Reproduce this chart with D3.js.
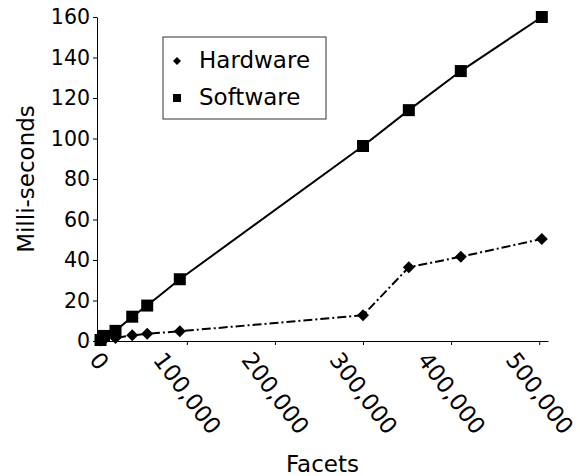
<!DOCTYPE html>
<html>
<head>
<meta charset="utf-8">
<script src="https://cdn.jsdelivr.net/npm/d3@7"></script>
<style>
  html, body { margin: 0; padding: 0; background: #fff; }
  svg { display: block; font-family: "DejaVu Sans", sans-serif; }
</style>
</head>
<body>
<svg id="chart" width="580" height="476"></svg>
<script>
// Render time versus number of facets
const facets = [2000, 6000, 19000, 38000, 55000, 92000, 300000, 352000, 411000, 503000];
const software = [0.5, 2.5, 5, 12, 17.5, 30.5, 96.3, 114, 133.3, 160];
const hardware = [0.2, 0.8, 1.5, 2.8, 3.6, 4.8, 12.7, 36.4, 41.6, 50.4];
const xTicks = [0, 100000, 200000, 300000, 400000, 500000];
const yTicks = [0, 20, 40, 60, 80, 100, 120, 140, 160];
const seriesNames = ["Hardware", "Software"];

const svg = d3.select("#chart");
const x = d3.scaleLinear().domain([-2000, 510000]).range([97, 548]);
const y = d3.scaleLinear().domain([0, 160]).range([341, 17]);
const fmt = d3.format(",");

const yTickFont = 20.5;
const xTickFont = 23;
const labelFont = 23;
const xTickAngle = 53;

// Y axis
const yAxis = svg.append("g")
  .attr("transform", `translate(${x.range()[0]},0)`)
  .call(d3.axisLeft(y).tickValues(yTicks).tickSize(4).tickPadding(3).tickSizeOuter(0));
yAxis.select(".domain").attr("stroke", "#000").attr("stroke-width", 1);
yAxis.selectAll(".tick line").attr("stroke", "#000");
yAxis.selectAll(".tick text").attr("font-size", yTickFont).attr("fill", "#000")
  .attr("font-family", "DejaVu Sans");

// X axis
const xAxis = svg.append("g")
  .attr("transform", `translate(0,${y.range()[0]})`)
  .call(d3.axisBottom(x).tickValues(xTicks).tickSize(4).tickSizeOuter(0).tickFormat(fmt));
xAxis.select(".domain").attr("stroke", "#000").attr("stroke-width", 1);
xAxis.selectAll(".tick line").attr("stroke", "#000");
// Rotated tick labels: bounding box centred under the tick, top just below it
const rad = xTickAngle * Math.PI / 180;
xAxis.selectAll(".tick text").each(function () {
  const t = d3.select(this)
    .attr("font-size", xTickFont).attr("fill", "#000")
    .attr("font-family", "DejaVu Sans")
    .attr("text-anchor", "middle")
    .attr("dy", null)
    .attr("dominant-baseline", "central");
  const w = this.getComputedTextLength();
  const h = xTickFont * 0.76;
  const halfV = (w * Math.sin(rad) + h * Math.cos(rad)) / 2;
  t.attr("y", 0).attr("x", 0)
   .attr("transform", `translate(0,${9 + halfV}) rotate(${xTickAngle})`);
});

// Axis titles
svg.append("text")
  .attr("x", (x.range()[0] + x.range()[1]) / 2)
  .attr("y", 472)
  .attr("text-anchor", "middle")
  .attr("font-size", labelFont)
  .text("Facets");
svg.append("text")
  .attr("transform", `translate(34,${(y.range()[0] + y.range()[1]) / 2}) rotate(-90)`)
  .attr("text-anchor", "middle")
  .attr("font-size", labelFont)
  .text("Milli-seconds");

const pts = (vals) => facets.map((f, i) => [x(f), y(vals[i])]);
const line = d3.line();

// Software: solid line with squares
svg.append("path")
  .attr("d", line(pts(software)))
  .attr("fill", "none").attr("stroke", "#000").attr("stroke-width", 2);
svg.append("g").selectAll("rect")
  .data(pts(software)).join("rect")
  .attr("x", d => d[0] - 6).attr("y", d => d[1] - 6)
  .attr("width", 12).attr("height", 12).attr("fill", "#000");

// Hardware: dash-dot line with diamonds
svg.append("path")
  .attr("d", line(pts(hardware)))
  .attr("fill", "none").attr("stroke", "#000").attr("stroke-width", 2)
  .attr("stroke-dasharray", "9,3,2,3");
const diamond = d3.symbol().type(d3.symbolSquare).size(72);
svg.append("g").selectAll("path")
  .data(pts(hardware)).join("path")
  .attr("d", diamond)
  .attr("transform", d => `translate(${d[0]},${d[1]}) rotate(45)`)
  .attr("fill", "#000");

// Legend
const legend = svg.append("g");
legend.append("rect")
  .attr("x", 163).attr("y", 37).attr("width", 163).attr("height", 82)
  .attr("fill", "#fff").attr("stroke", "#333").attr("stroke-width", 1);
seriesNames.forEach((name, i) => {
  const cy = 61 + i * 37;
  if (name === "Hardware") {
    legend.append("path")
      .attr("d", d3.symbol().type(d3.symbolSquare).size(32))
      .attr("transform", `translate(177,${cy}) rotate(45)`)
      .attr("fill", "#000");
  } else {
    legend.append("rect")
      .attr("x", 173).attr("y", cy - 4).attr("width", 8).attr("height", 8)
      .attr("fill", "#000");
  }
  legend.append("text")
    .attr("x", 199).attr("y", cy + 7)
    .attr("font-size", labelFont)
    .text(name);
});
</script>
</body>
</html>
